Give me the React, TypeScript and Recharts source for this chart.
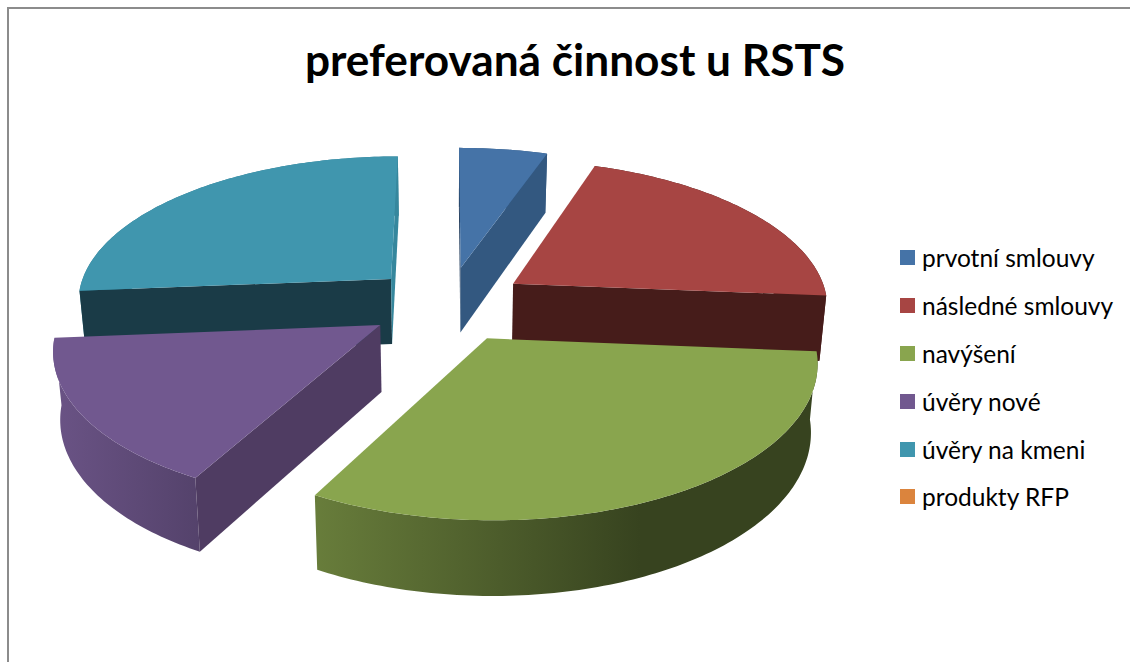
import React from 'react';
import { PieChart, Pie, Legend } from 'recharts';

const categories = [
  'prvotní smlouvy',
  'následné smlouvy',
  'navýšení',
  'úvěry nové',
  'úvěry na kmeni',
  'produkty RFP',
];
const values = [1, 4, 6, 3, 5, 0];
const sliceColors = ['#4573a7', '#a74543', '#89a54e', '#71588f', '#4096ae', '#db843d'];

// side wall shades: [wall at the slice's first edge, wall at its last edge]
const wallColors = [
  ['#1f3a5a', '#335880'],
  ['#6e2f2d', '#461c1a'],
  ['#56692f', '#56692f'],
  ['#4f3c62', '#4f3c62'],
  ['#1a3b47', '#36879d'],
  ['#000000', '#000000'],
];
// rim shading, left to right: [from colour, to colour, from x, to x]
const rimShades: [string, string, number, number][] = [
  ['#335880', '#335880', 450, 550],
  ['#461c1a', '#461c1a', 510, 830],
  ['#687d3b', '#37431f', 315, 640],
  ['#6a5385', '#54426b', 55, 200],
  ['#2f7d92', '#2f7d92', 70, 400],
  ['#000000', '#000000', 0, 1],
];

const REAR_SLICES = ['prvotní smlouvy', 'úvěry na kmeni'];

const WIDTH = 1130;
const HEIGHT = 662;
const FONT = 'Lato, "Open Sans", sans-serif';

// tilted disc projection
const CX = 448;
const CY = 304;
const PIE_RADIUS = 316;
const SCALE_X = 327;
const SCALE_Y = 151.2;
const PERSPECTIVE = 0.144;
const EXPLODE_X = 0.2425;
const EXPLODE_Y = 0.25;
const DEPTH = 66;
const BOTTOM_SHRINK = 0.982;

const chartRows = categories.map((name, i) => ({
  name,
  value: values[i],
  fill: sliceColors[i],
}));

type Pt = [number, number];

function projectTop(x: number, y: number): Pt {
  const s = 1 / (1 - PERSPECTIVE * y);
  return [CX + SCALE_X * x * s, CY + SCALE_Y * y * s];
}

function projectBottom(x: number, y: number): Pt {
  const s = 1 / (1 - PERSPECTIVE * y);
  const [px, py] = projectTop(x, y);
  return [
    CX + (px - CX) * BOTTOM_SHRINK,
    CY + (py - CY) * BOTTOM_SHRINK + DEPTH * s,
  ];
}

function toPath(points: Pt[]): string {
  return 'M' + points.map((p) => `${p[0].toFixed(2)},${p[1].toFixed(2)}`).join('L') + 'Z';
}

// A cut face shows only when the top face lies above its upper edge
function wallFacesViewer(apex: Pt, end: Pt, inside: Pt): boolean {
  const ex = end[0] - apex[0];
  const ey = end[1] - apex[1];
  const towardsInside = ex * (inside[1] - apex[1]) - ey * (inside[0] - apex[0]);
  return towardsInside * ex < 0;
}

// Draws one slice as a lifted wedge, using the angles the Pie worked out
function WedgeShape(props: any) {
  const { name, startAngle, endAngle, outerRadius } = props;
  const index = categories.indexOf(name);
  if (index < 0 || startAngle === endAngle) return null;

  const r = outerRadius / SCALE_X;
  // recharts angles run anticlockwise from 3 o'clock, here clockwise from 12
  const from = ((90 - startAngle) * Math.PI) / 180;
  const to = ((90 - endAngle) * Math.PI) / 180;
  const mid = (from + to) / 2;
  const ox = EXPLODE_X * Math.sin(mid);
  const oy = -EXPLODE_Y * Math.cos(mid);

  const steps = Math.max(2, Math.ceil(((to - from) * 180) / Math.PI));
  const rim: Pt[] = [];
  for (let i = 0; i <= steps; i++) {
    const a = from + ((to - from) * i) / steps;
    rim.push([ox + r * Math.sin(a), oy - r * Math.cos(a)]);
  }

  const top = rim.map((p) => projectTop(p[0], p[1]));
  const bottom = rim.map((p) => projectBottom(p[0], p[1]));
  const apexTop = projectTop(ox, oy);
  const apexBottom = projectBottom(ox, oy);
  const last = rim.length - 1;
  const inside = top[Math.round(last / 2)];

  const [c1, c2, x1, x2] = rimShades[index];
  const gradientId = `rim-${index}`;

  return (
    <g>
      <defs>
        <linearGradient id={gradientId} gradientUnits="userSpaceOnUse" x1={x1} x2={x2} y1={0} y2={0}>
          <stop offset="0%" stopColor={c1} />
          <stop offset="100%" stopColor={c2} />
        </linearGradient>
      </defs>
      <path d={toPath([...top, ...[...bottom].reverse()])} fill={`url(#${gradientId})`} />
      {wallFacesViewer(apexTop, top[0], inside) && (
        <path d={toPath([apexTop, top[0], bottom[0], apexBottom])} fill={wallColors[index][0]} />
      )}
      {wallFacesViewer(apexTop, top[last], inside) && (
        <path d={toPath([apexTop, top[last], bottom[last], apexBottom])} fill={wallColors[index][1]} />
      )}
      <path d={toPath([apexTop, ...top])} fill={sliceColors[index]} />
    </g>
  );
}

const rearShape = (props: any) =>
  REAR_SLICES.includes(props.name) ? <WedgeShape {...props} /> : <g />;
const frontShape = (props: any) =>
  REAR_SLICES.includes(props.name) ? <g /> : <WedgeShape {...props} />;

function LegendList({ payload }: any) {
  const items = (payload || []).filter((p: any) => p.type !== 'none');
  return (
    <div>
      {items.map((item: any) => (
        <div
          key={item.value}
          style={{
            display: 'flex',
            alignItems: 'center',
            height: 47.8,
            fontFamily: FONT,
            fontSize: 24.5,
            color: '#000',
            whiteSpace: 'nowrap',
          }}
        >
          <span
            style={{
              display: 'inline-block',
              width: 15,
              height: 15,
              marginRight: 7,
              background: item.color,
            }}
          />
          {item.value}
        </div>
      ))}
    </div>
  );
}

export default function App() {
  return (
    <div
      style={{
        position: 'absolute',
        left: 0,
        top: 0,
        width: WIDTH,
        height: HEIGHT,
        background: '#fff',
        overflow: 'hidden',
      }}
    >
      {/* chart area frame, open at the right and bottom */}
      <div
        style={{
          position: 'absolute',
          left: 7,
          top: 7,
          width: WIDTH,
          height: HEIGHT,
          borderLeft: '2px solid #8c8c8c',
          borderTop: '2px solid #8c8c8c',
        }}
      />
      <PieChart
        width={WIDTH}
        height={HEIGHT}
        margin={{ top: 0, right: 0, bottom: 0, left: 0 }}
        style={{ position: 'absolute', left: 0, top: 0 }}
      >
        <text
          x={575}
          y={76}
          textAnchor="middle"
          fontFamily={FONT}
          fontWeight={700}
          fontSize={44.2}
          fill="#000"
        >
          preferovaná činnost u RSTS
        </text>
        <Pie
          data={chartRows}
          dataKey="value"
          nameKey="name"
          cx={CX}
          cy={CY}
          outerRadius={PIE_RADIUS}
          startAngle={90}
          endAngle={-270}
          stroke="none"
          shape={rearShape}
          isAnimationActive={false}
        />
        <Pie
          data={chartRows}
          dataKey="value"
          nameKey="name"
          cx={CX}
          cy={CY}
          outerRadius={PIE_RADIUS}
          startAngle={90}
          endAngle={-270}
          stroke="none"
          shape={frontShape}
          legendType="none"
          isAnimationActive={false}
        />
        <Legend
          layout="vertical"
          itemSorter={null}
          content={<LegendList />}
          wrapperStyle={{ position: 'absolute', left: 900, top: 234, width: 230, bottom: 'auto', right: 'auto' }}
        />
      </PieChart>
    </div>
  );
}
